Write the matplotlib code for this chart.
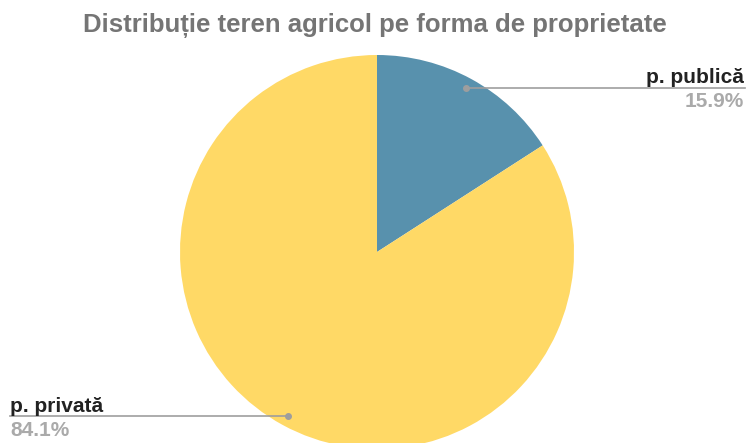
import matplotlib.pyplot as plt

plt.rcParams['font.family'] = ['Liberation Sans', 'DejaVu Sans']

labels = ["p. publică", "p. privată"]
values = [15.9, 84.1]
colors = ["#5891ad", "#ffd966"]

fig = plt.figure(figsize=(7.47, 4.43), dpi=100)
W, H = 747, 443

# pie axes placed in pixel terms: center (377, 252), radius 197
ax = fig.add_axes([180 / W, (H - 449) / H, 394 / W, 394 / H])
ax.pie(values, colors=colors, startangle=90, counterclock=False,
       radius=1, wedgeprops=dict(linewidth=0))
ax.set_xlim(-1, 1)
ax.set_ylim(-1, 1)
ax.set_aspect('equal')
ax.axis('off')

fig.text(375 / W, 1 - 26 / H, "Distribuție teren agricol pe forma de proprietate",
         ha='center', va='center', fontsize=18.5, fontweight='bold', color='#757575')

def px(x, y):
    return x / W, 1 - y / H

grey = '#9e9e9e'
# p. publica
fig.add_artist(plt.Line2D([466 / W, 745 / W], [1 - 88 / H] * 2, color=grey, lw=1.2))
fig.add_artist(plt.Line2D([466 / W], [1 - 88 / H], marker='o', ms=4, color=grey))
fig.text(*px(744, 83), labels[0], ha='right', va='baseline', fontsize=15,
         fontweight='bold', color='#222222')
fig.text(*px(744, 92), "%.1f%%" % values[0], ha='right', va='top', fontsize=15,
         fontweight='bold', color='#aaaaaa')

# p. privata
fig.add_artist(plt.Line2D([10 / W, 288 / W], [1 - 416 / H] * 2, color=grey, lw=1.2))
fig.add_artist(plt.Line2D([288 / W], [1 - 416 / H], marker='o', ms=4, color=grey))
fig.text(*px(10, 412), labels[1], ha='left', va='baseline', fontsize=15,
         fontweight='bold', color='#222222')
fig.text(*px(10, 421), "%.1f%%" % values[1], ha='left', va='top', fontsize=15,
         fontweight='bold', color='#aaaaaa')

fig.savefig("out.png", dpi=100)
